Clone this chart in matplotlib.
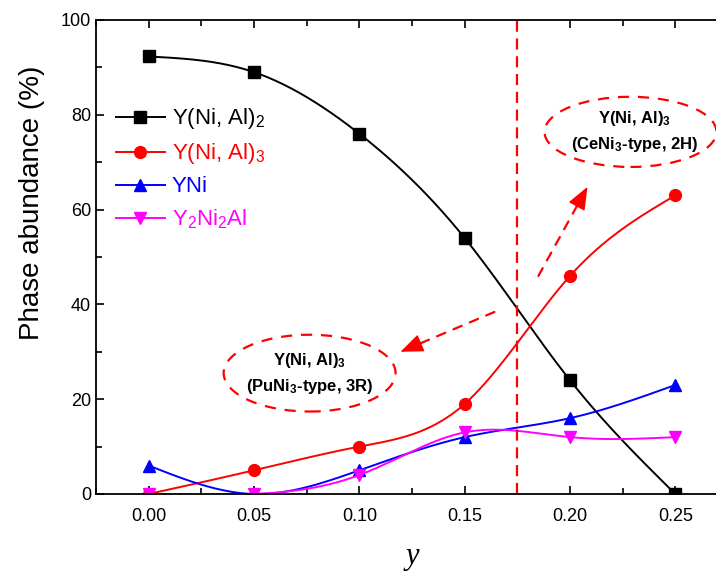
import numpy as np
import matplotlib
matplotlib.use("Agg")
import matplotlib.pyplot as plt
from matplotlib.patches import Ellipse
from matplotlib.ticker import MultipleLocator

plt.rcParams['font.family'] = ['Liberation Sans', 'DejaVu Sans']
plt.rcParams['mathtext.fontset'] = 'custom'
plt.rcParams['mathtext.rm'] = 'Liberation Sans'
plt.rcParams['mathtext.it'] = 'Liberation Sans:italic'
plt.rcParams['mathtext.bf'] = 'Liberation Sans:bold'

# data
y_content = [0.00, 0.05, 0.10, 0.15, 0.20, 0.25]
ni_al_2 = [92.3, 89.0, 76.0, 54.0, 24.0, 0.0]
ni_al_3 = [0.0, 5.0, 10.0, 19.0, 46.0, 63.0]
y_ni = [6.0, 0.0, 5.0, 12.0, 16.0, 23.0]
y2ni2al = [0.0, 0.0, 4.0, 13.0, 12.0, 12.0]

labels = [r'Y(Ni, Al)$_2$', r'Y(Ni, Al)$_3$', 'YNi', r'Y$_2$Ni$_2$Al']
colors = ['black', 'red', 'blue', 'magenta']
markers = ['s', 'o', '^', 'v']


def smooth(x, y, n=200):
    # natural cubic spline, only used to draw the connecting line
    x = np.asarray(x, float)
    y = np.asarray(y, float)
    k = len(x)
    h = np.diff(x)
    A = np.zeros((k, k))
    b = np.zeros(k)
    A[0, 0] = A[-1, -1] = 1
    for i in range(1, k - 1):
        A[i, i - 1] = h[i - 1]
        A[i, i] = 2 * (h[i - 1] + h[i])
        A[i, i + 1] = h[i]
        b[i] = 6 * ((y[i + 1] - y[i]) / h[i] - (y[i] - y[i - 1]) / h[i - 1])
    m = np.linalg.solve(A, b)
    xs = np.linspace(x[0], x[-1], n)
    idx = np.clip(np.searchsorted(x, xs) - 1, 0, k - 2)
    t = xs - x[idx]
    hi = h[idx]
    a = y[idx]
    bb = (y[idx + 1] - y[idx]) / hi - hi * (2 * m[idx] + m[idx + 1]) / 6
    c = m[idx] / 2
    d = (m[idx + 1] - m[idx]) / (6 * hi)
    return xs, a + bb * t + c * t ** 2 + d * t ** 3


def dashed_arrow(ax, tail, head):
    ax.annotate('', xy=head, xytext=tail,
                arrowprops=dict(arrowstyle='-', color='red', lw=1.6, ls=(0, (4, 4)),
                                shrinkA=0, shrinkB=0))
    back = (head[0] - 0.08 * (head[0] - tail[0]), head[1] - 0.08 * (head[1] - tail[1]))
    ax.annotate('', xy=head, xytext=back,
                arrowprops=dict(arrowstyle='-|>,head_length=0.55,head_width=0.22',
                                color='red', lw=1.0, mutation_scale=26,
                                shrinkA=0, shrinkB=0))


fig = plt.figure(figsize=(7.16, 5.72), dpi=100)
ax = fig.add_axes([96 / 716, 1 - 494 / 572, 632 / 716, 474 / 572])

for vals, lab, col, mk in zip([ni_al_2, ni_al_3, y_ni, y2ni2al], labels, colors, markers):
    xs, ys = smooth(y_content, vals)
    ax.plot(xs, ys, color=col, lw=1.4)
    ax.plot(y_content, vals, ls='none', marker=mk, color=col, ms=8.5)
    ax.plot([], [], color=col, lw=1.4, marker=mk, ms=8.5, label=lab)

ax.axvline(0.175, color='red', ls=(0, (5, 3)), lw=1.6)

ax.add_patch(Ellipse((0.0764, 25.5), 0.0816, 16.2, fill=False, ec='red',
                     ls=(0, (5, 4)), lw=1.6))
ax.add_patch(Ellipse((0.2287, 76.4), 0.0816, 14.8, fill=False, ec='red',
                     ls=(0, (5, 4)), lw=1.6, clip_on=False))
ax.text(0.0764, 25.5, 'Y(Ni, Al)$_\\mathbf{3}$\n(PuNi$_\\mathbf{3}$-type, 3R)', ha='center',
        va='center', fontsize=12, fontweight='bold', linespacing=1.5)
ax.text(0.2307, 76.4, 'Y(Ni, Al)$_\\mathbf{3}$\n(CeNi$_\\mathbf{3}$-type, 2H)', ha='center',
        va='center', fontsize=12, fontweight='bold', linespacing=1.5)

dashed_arrow(ax, (0.1641, 38.4), (0.1195, 30.0))
dashed_arrow(ax, (0.185, 46.0), (0.2083, 64.8))

ax.set_xlim(-0.025, 0.275)
ax.set_ylim(0, 100)
ax.xaxis.set_minor_locator(MultipleLocator(0.025))
ax.yaxis.set_major_locator(MultipleLocator(20))
ax.yaxis.set_minor_locator(MultipleLocator(10))
ax.set_xticks(y_content)
ax.set_xticklabels(['%.2f' % v for v in y_content])
ax.tick_params(which='both', direction='in', top=True, right=True, labelsize=13, width=1.2)
ax.tick_params(which='major', length=6)
ax.tick_params(which='minor', length=4)
ax.tick_params(axis='x', pad=10)
for s in ax.spines.values():
    s.set_linewidth(1.3)

ax.set_ylabel('Phase abundance (%)', fontsize=20)
ax.yaxis.set_label_coords(-0.08, 0.615)
ax.set_xlabel('y', fontsize=22, family='Liberation Serif', style='italic', labelpad=12)

leg = ax.legend(loc='upper left', bbox_to_anchor=(0.0, 0.86), frameon=False, fontsize=16,
                handlelength=2.2, handletextpad=0.3, labelspacing=0.45)
for txt, col in zip(leg.get_texts(), colors):
    txt.set_color(col)

fig.savefig('out.png', dpi=100)
